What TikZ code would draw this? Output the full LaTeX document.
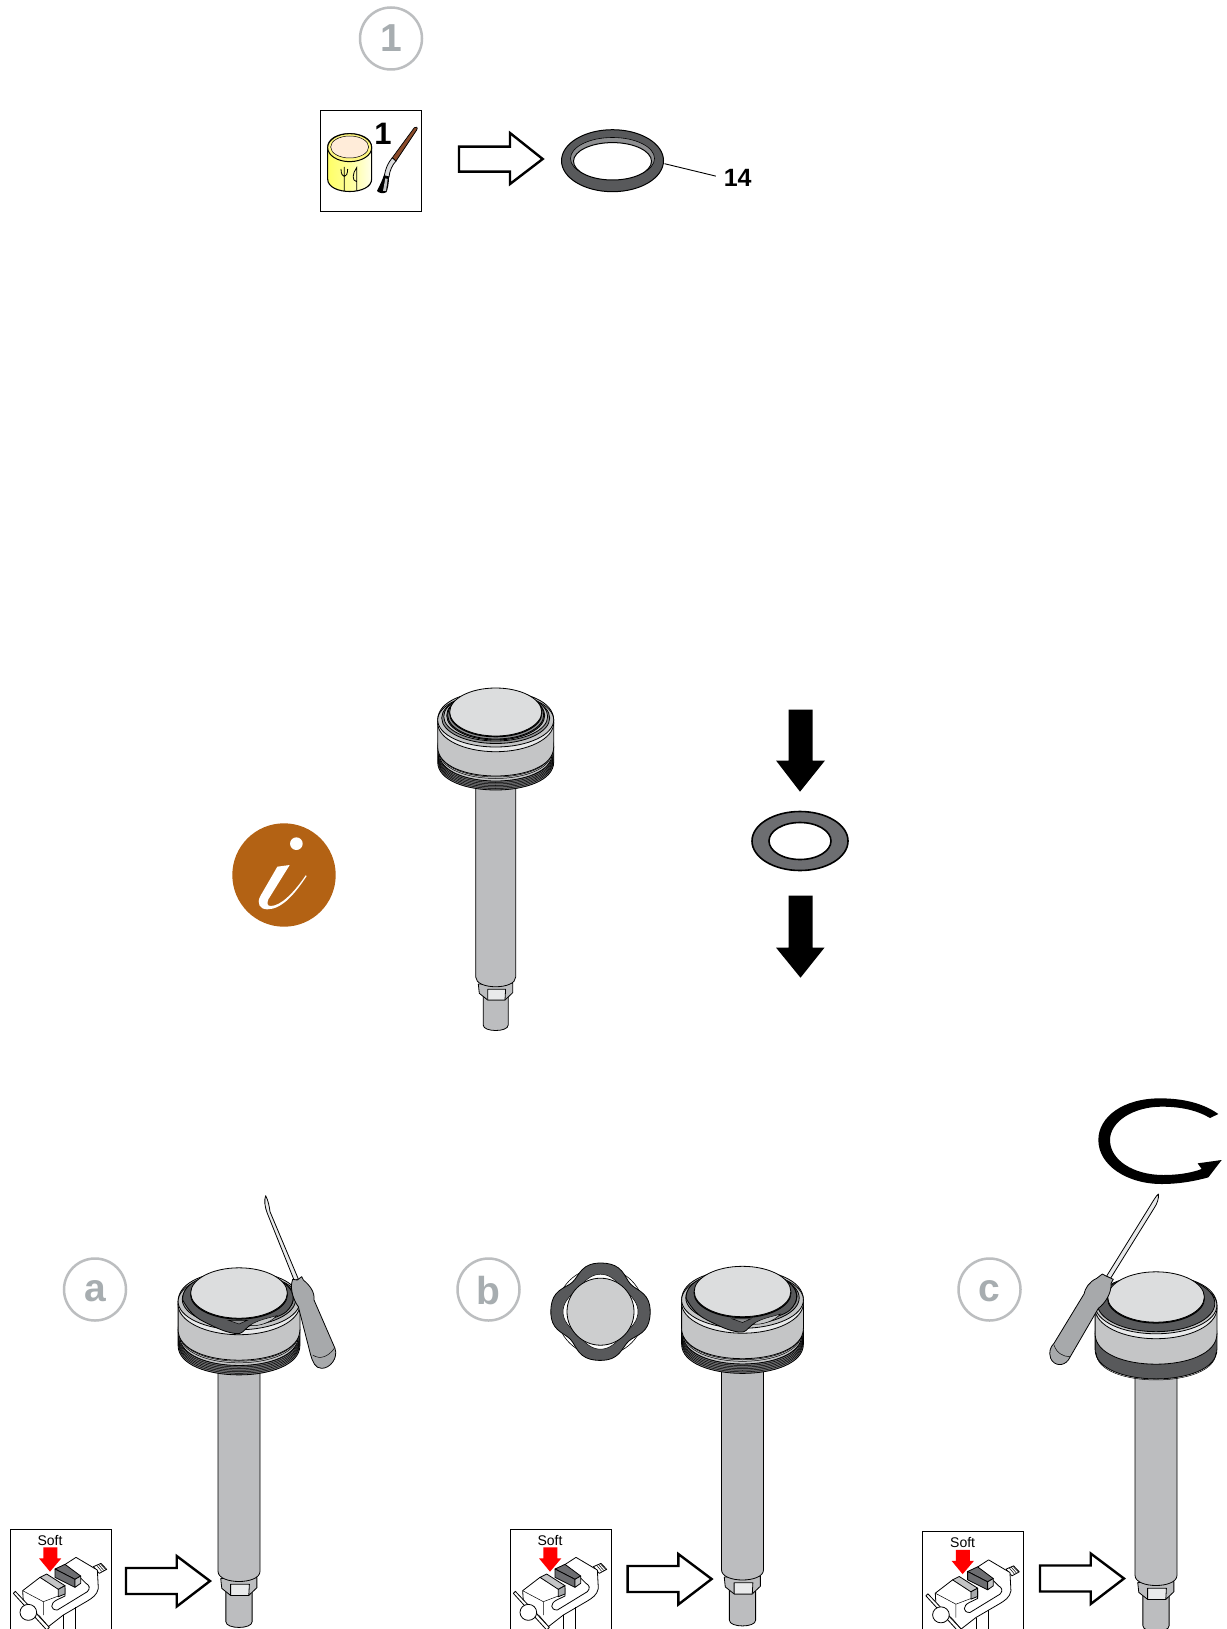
\documentclass[tikz,border=0pt]{standalone}
\usepackage{fontspec}
\setmainfont{Liberation Sans}
\definecolor{gbody}{HTML}{C4C5C6}
\definecolor{gshaft}{HTML}{BCBDBF}
\definecolor{gdisk}{HTML}{DCDDDE}
\definecolor{glight}{HTML}{E9EAEB}
\definecolor{gmid}{HTML}{8E8F91}
\definecolor{gdark}{HTML}{58595B}
\definecolor{ggroove}{HTML}{77787A}
\definecolor{gring}{HTML}{6D6E71}
\definecolor{gtool}{HTML}{A7A9AB}
\definecolor{glabel}{HTML}{A7ADB0}
\definecolor{gcirc}{HTML}{BCBEC0}
\definecolor{ibrown}{HTML}{B36214}
\definecolor{brushb}{HTML}{8A4B2A}
\tikzset{
  ln/.style={draw=black,line width=0.8pt,line join=round},
  thinln/.style={draw=black,line width=0.5pt},
  hollowarrow/.style={draw=black,fill=white,line width=2.4pt,miter limit=10},
  solidarrow/.style={fill=black},
  stepcircle/.style={circle,draw=gcirc,line width=2.5pt,minimum size=62pt,inner sep=0pt,text=glabel,font=\bfseries\fontsize{39}{39}\selectfont},
  partlabel/.style={font=\bfseries\fontsize{25}{25}\selectfont,inner sep=0pt},
}
% cylinder: half width, top y, bottom y, ry, colour
\newcommand{\cyl}[5]{\draw[ln,fill=#5] (-#1,#2) -- (-#1,#3) .. controls (-#1,{#3+1.333*#4}) and (#1,{#3+1.333*#4}) .. (#1,#3) -- (#1,#2) .. controls (#1,{#2-1.333*#4}) and (-#1,{#2-1.333*#4}) .. (-#1,#2) -- cycle;}
\newcommand{\lowarc}[3]{\draw[thinln] (-#1,#2) .. controls (-#1,{#2+1.333*#3}) and (#1,{#2+1.333*#3}) .. (#1,#2);}
\newcommand{\shaftlow}{%
  \cyl{12.5}{280}{313}{5.5}{gshaft}
  \draw[ln,fill=gshaft] (-17.4,272) -- (-16.4,281.3) -- (-8,288) -- (9.3,288) -- (17,280.7) -- (17,271) -- cycle;
  \draw[ln,fill=glight] (-8,277.3) -- (9.9,277.3) -- (9.3,288) -- (-8,288) -- cycle;
  \draw[ln,fill=gshaft] (-20,55) -- (-20,265) .. controls (-20,278) and (20,278) .. (20,265) -- (20,55) -- cycle;
}
\newcommand{\grooves}{%
  \cyl{58}{35}{50}{28}{ggroove}
  \foreach \yy in {41,42.5,44,45.5,47,48.5}{\lowarc{57.5}{\yy}{28}}
  \cyl{56.5}{30}{41}{28}{gbody}
  \lowarc{56.5}{38.5}{28}
  \lowarc{56.5}{37}{28}
}
\newcommand{\bodytop}{%
  \cyl{58}{8}{35}{29}{gbody}
  \draw[ln,fill=glight] (0,11) ellipse[x radius=58pt,y radius=28.7pt];
  \draw[ln,fill=gbody] (0,8) ellipse[x radius=58pt,y radius=27pt];
}
\newcommand{\disk}{%
  \fill[black] (0,1.3) ellipse[x radius=46.6pt,y radius=24pt];
  \draw[ln,fill=gdisk] (0,0) ellipse[x radius=46pt,y radius=24pt];
}
\newcommand{\collars}{%
  \draw[ln,fill=gmid] (0,6) ellipse[x radius=54pt,y radius=25.5pt];
  \draw[ln,fill=gbody] (0,4.5) ellipse[x radius=52pt,y radius=24.5pt];
  \draw[ln,fill=gdark] (0,3.5) ellipse[x radius=49pt,y radius=24.5pt];
  \draw[ln,fill=gmid] (0,3) ellipse[x radius=48pt,y radius=24pt];
}
\newcommand{\tongue}{%
  \draw[ln,fill=gdark] (-53.6,6.7) .. controls (-48,17) and (-42,23) .. (-34,27) .. controls (-26,31) and (-18,35) .. (-11.7,36.8) .. controls (-6,38.5) and (-2,39) .. (1,38.4) .. controls (5,37) and (6,33.5) .. (8.9,32) .. controls (12,30) and (15,28) .. (20,27) .. controls (30,25) and (40,22) .. (45,17.8) .. controls (49,14) and (52,9) .. (51.6,3.5) .. controls (50,-10) and (30,-20) .. (0,-20) .. controls (-30,-20) and (-55,-10) .. (-53.6,6.7) -- cycle;
  \draw[thinln,fill=gbody] (10,31) .. controls (18,25.5) and (28,24) .. (36,21.5) .. controls (30,28.5) and (18,32) .. (10,31) -- cycle;
  \draw[thinln,fill=gmid] (-10,26) -- (0,29.5) -- (8,26) -- cycle;
}
\newcommand{\hollow}[1]{\draw[hollowarrow,shift={(#1)}] (126,1568) -- (176.7,1568) -- (176.7,1556) -- (210,1581) -- (176.7,1606.5) -- (176.7,1594) -- (126,1594) -- cycle;}
\newcommand{\vise}[2]{%
\begin{scope}[shift={(#1)},scale=1/3]
  \draw[line width=0.9pt] (30,340) -- (30,28) -- (333,28) -- (333,340);
  \node[inner sep=0pt,font=\fontsize{14}{14}\selectfont] (soft#2) at (150,60) {Soft};
  % screw
  \draw[ln,fill=white] (280,140) -- (303,130) -- (320,148) -- (298,160) -- cycle;
  \foreach \t in {0,6,12}{\draw[thinln] (290+\t,136-\t*.3) -- (305+\t,154-\t*.5);}
  % body
  \draw[ln,fill=white] (68,212) -- (120,172) -- (195,205) -- (195,228) -- (170,240) .. controls (150,250) and (150,270) .. (172,270) -- (262,215) .. controls (272,205) and (268,195) .. (258,190) -- (240,172) -- (185,140) -- (228,112) -- (292,150) -- (295,205) .. controls (292,225) and (275,235) .. (262,243) -- (190,285) -- (145,320) -- (120,290) -- (70,245) -- cycle;
  \draw[thinln] (68,212) -- (130,245) -- (130,285);
  \draw[thinln] (130,245) -- (175,228);
  \draw[thinln] (190,285) -- (190,340);
  \draw[thinln] (227,262) -- (227,340);
  % left soft jaw
  \draw[ln,fill=gbody] (120,172) -- (140,162) -- (195,197) -- (175,208) -- cycle;
  \draw[ln,fill=gtool] (175,208) -- (195,197) -- (195,222) -- (175,230) -- cycle;
  % right soft jaw
  \draw[ln,fill=gring] (165,147) -- (195,133) -- (242,168) -- (225,178) -- cycle;
  \draw[ln,fill=gring] (165,147) -- (225,178) -- (225,202) -- (165,172) -- cycle;
  \draw[ln,fill=gbody] (225,178) -- (242,168) -- (242,190) -- (225,202) -- cycle;
  % handle
  \draw[ln,fill=white] (40,220) -- (46,214) -- (148,322) -- (140,330) -- cycle;
  \draw[ln,fill=white] (85,277) ellipse[x radius=25pt,y radius=24pt];
  % arrow
  \fill[red] (130,82) -- (172,82) -- (172,115) -- (184,115) -- (150,155) -- (117,115) -- (130,115) -- cycle;
\end{scope}}
\begin{document}
\begin{tikzpicture}[x=1pt,y=-1pt]
\clip (0,0) rectangle (1226,1629);
\fill[white] (0,0) rectangle (1226,1629);

% step number
\node[stepcircle] (step1) at (391,38.5) {1};

% ===== lubricant icon =====
\node[draw=black,line width=0.9pt,minimum width=101pt,minimum height=101pt,inner sep=0pt] (grease) at (371,161) {};
\begin{scope}[shift={(315,105)},scale=1/3]
  \draw[line width=1.1pt,left color=yellow!60!white,right color=yellow!8!white,middle color=yellow!40!white] (38,128) -- (38,222) .. controls (38,272) and (170,272) .. (170,222) -- (170,128) .. controls (170,72) and (38,72) .. (38,128) -- cycle;
  \draw[line width=1pt,fill=yellow!50!white] (104,128) ellipse[x radius=66pt,y radius=42pt];
  \draw[line width=0.5pt,fill=orange!15!white] (104,126) ellipse[x radius=57pt,y radius=33pt];
  \draw[line width=0.8pt] (78,192) .. controls (78,222) and (98,222) .. (98,192) (88,186) -- (88,258);
  \draw[line width=0.8pt] (125,258) -- (125,188) .. controls (112,205) and (110,228) .. (125,230);
  \draw[line width=0.8pt,fill=gdisk] (232,158) .. controls (218,175) and (212,190) .. (208,212) -- (222,216) .. controls (224,196) and (232,180) .. (243,168) -- cycle;
  \draw[line width=0.7pt,fill=brushb] (232,158) -- (298,68) .. controls (303,62) and (310,68) .. (305,75) -- (243,168) -- cycle;
  \fill[black] (206,212) -- (222,216) .. controls (222,235) and (218,255) .. (214,262) .. controls (205,266) and (192,265) .. (186,258) .. controls (195,240) and (202,225) .. (206,212) -- cycle;
  \fill[gbody] (211,220) -- (218,222) -- (213,258) -- (204,258) -- cycle;
\end{scope}
\node[partlabel,font=\bfseries\fontsize{31}{31}\selectfont] (gqty) at (383,133.5) {1};

% hollow arrow top
\draw[hollowarrow] (459,146.7) -- (510,146.7) -- (510,133) -- (542.7,159) -- (510,184) -- (510,171.7) -- (459,171.7) -- cycle;

% ring 14
\draw[line width=1pt,fill=gdark] (612.5,160.7) ellipse[x radius=51pt,y radius=31pt];
\draw[line width=0.6pt,fill=gmid] (612.5,158.5) ellipse[x radius=42pt,y radius=21pt];
\draw[line width=1pt,fill=white] (612.5,161.3) ellipse[x radius=39pt,y radius=18.7pt];
\coordinate (ringedge) at (664.5,163.7);
\node[partlabel] (n14) at (737.7,178) {14};
\draw[line width=0.9pt,shorten >=8pt] (ringedge) -- (n14.west);

% ===== main piston =====
\begin{scope}[shift={(495.7,712)}]
  \shaftlow \grooves \bodytop \collars \disk
\end{scope}

% black arrows and ring
\fill[solidarrow] (788.6,709.6) -- (812.5,709.6) -- (812.5,760.5) -- (825,760.5) -- (800,791.7) -- (776,760.5) -- (788.6,760.5) -- cycle;
\draw[line width=1.6pt,fill=gring] (800,841) ellipse[x radius=48pt,y radius=29.5pt];
\draw[line width=1.6pt,fill=white] (800,841) ellipse[x radius=31pt,y radius=18.5pt];
\fill[solidarrow] (788.6,895.6) -- (812.5,895.6) -- (812.5,947.6) -- (824.5,947.6) -- (800.5,977.7) -- (776,947.6) -- (788.6,947.6) -- cycle;

% info icon
\fill[ibrown] (284,875) circle[radius=51.7pt];
\begin{scope}[shift={(225.7,816)},scale=1/3]
  \fill[white] (212,83) circle[radius=19pt];
  \fill[white] (192,147) -- (155,152) -- (104,240) .. controls (92,262) and (102,280) .. (125,280) .. controls (170,280) and (210,230) .. (243,180) -- (240,178) .. controls (205,230) and (165,270) .. (135,270) .. controls (125,270) and (123,262) .. (128,250) -- cycle;
\end{scope}

% step letters
\node[stepcircle,text height=24pt,text depth=0pt] (stepa) at (95,1289.5) {a};
\node[stepcircle,text height=29pt,text depth=0pt] (stepb) at (488.5,1289.5) {b};
\node[stepcircle,text height=24pt,text depth=0pt] (stepc) at (989.5,1289.5) {c};

% ===== piston a =====
\begin{scope}[shift={(239,1293)},scale=1.05]
  \shaftlow \grooves \bodytop \collars \tongue \disk
\end{scope}
% screwdriver a
\begin{scope}[shift={(160,1180)},scale=1/3]
  \draw[ln,fill=glight] (317,47) .. controls (325,62) and (328,80) .. (330,95) -- (415,297) -- (403,302) -- (322,100) .. controls (314,80) and (312,60) .. (317,47) -- cycle;
  \draw[ln,fill=gtool] (395,310) -- (398,298) -- (412,300) -- (425,290) -- (430,300) .. controls (448,315) and (465,335) .. (462,360) -- (525,505) .. controls (535,535) and (510,565) .. (485,565) .. controls (465,565) and (458,545) .. (452,525) -- (415,380) .. controls (400,360) and (392,330) .. (395,310) -- cycle;
  \draw[thinln] (458,525) .. controls (480,540) and (505,530) .. (523,505);
\end{scope}

% ===== ring b =====
\draw[line width=0.6pt,fill=white] (600.5,1311.7) circle[radius=44pt];
\draw[ln,fill=gdark,smooth,samples=72,domain=0:355] plot ({600.5+(46.5+4.2*cos(4*\x)-1*cos(8*\x))*cos(\x+2)},{1311.7+(45.5+4.2*cos(4*\x)-1*cos(8*\x))*sin(\x+2)}) -- cycle;
\draw[thinln,fill=white,smooth,samples=72,domain=0:355] plot ({600.5+(35+2.5*cos(4*\x))*cos(\x)},{1311.7+(35+2.5*cos(4*\x))*sin(\x)}) -- cycle;
\draw[ln,fill=gbody!85!white] (600.5,1311.7) circle[radius=33.5pt];

% ===== piston b =====
\begin{scope}[shift={(742.5,1291.5)},scale=1.05]
  \shaftlow \grooves \bodytop \collars \tongue \disk
\end{scope}

% ===== rotation arrow c =====
\begin{scope}[shift={(1030,1090)},scale=1/3]
  \fill[black] (565,72) .. controls (520,40) and (460,25) .. (390,25) .. controls (280,25) and (205,80) .. (205,150) .. controls (205,225) and (290,282) .. (395,282) .. controls (450,282) and (500,272) .. (535,262) -- (575,210) -- (503,220) -- (515,237) .. controls (480,250) and (440,255) .. (400,255) .. controls (310,255) and (240,210) .. (240,150) .. controls (240,95) and (310,50) .. (395,50) .. controls (450,50) and (500,60) .. (540,84) -- cycle;
\end{scope}

% ===== piston c =====
\begin{scope}[shift={(1156,1297)},scale=1.05]
  \shaftlow
  \cyl{58}{35}{50}{28}{gdark}
  \lowarc{57}{53}{26}
  \bodytop
  \draw[ln,fill=gdark] (0,6) ellipse[x radius=56pt,y radius=27pt];
  \disk
\end{scope}
% screwdriver c
\begin{scope}[shift={(1030,1090)},scale=1/3]
  \draw[ln,fill=glight] (385,312) .. controls (387,325) and (382,340) .. (372,355) -- (241,566) -- (230,558) -- (362,345) .. controls (370,332) and (378,318) .. (385,312) -- cycle;
  \draw[ln,fill=gtool] (250,568) -- (243,580) .. controls (245,610) and (225,640) .. (205,655) -- (115,810) .. controls (100,830) and (72,828) .. (62,805) .. controls (55,785) and (62,770) .. (72,760) -- (162,612) .. controls (165,595) and (178,575) .. (200,565) -- (217,552) -- (228,558) -- cycle;
  \draw[thinln] (72,765) .. controls (80,790) and (100,800) .. (120,800);
\end{scope}

% ===== vises and arrows =====
\vise{0,1520}{a}
\hollow{0,0}
\vise{500,1520}{b}
\hollow{501.6,-2}
\vise{912.6,1522.5}{c}
\hollow{914,-2.5}
\end{tikzpicture}
\end{document}
